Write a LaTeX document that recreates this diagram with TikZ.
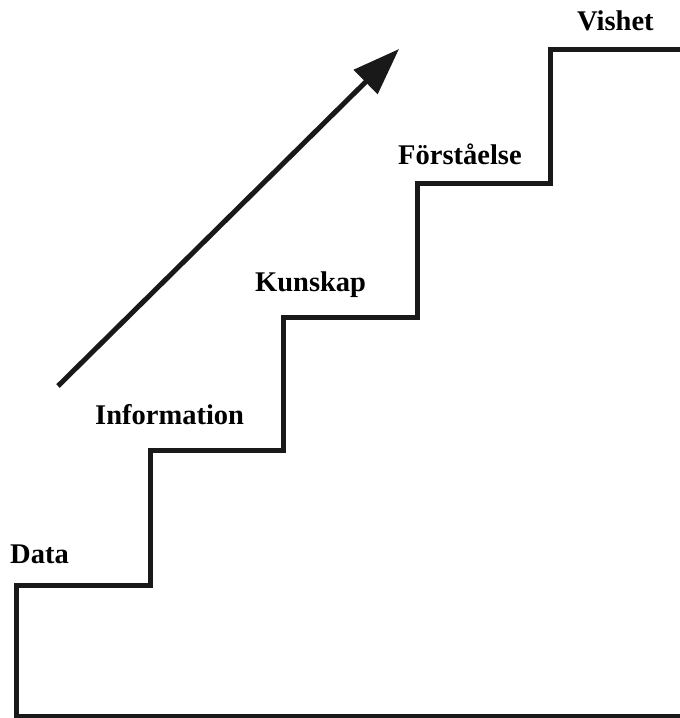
\documentclass[tikz,border=0pt]{standalone}
\usepackage{fontspec}
\setmainfont{Liberation Serif}
\usetikzlibrary{arrows.meta}
\begin{document}
\begin{tikzpicture}[x=1pt,y=-1pt,
  stair/.style={line width=5pt, line join=miter, color=black!90},
  steplabel/.style={anchor=base west, inner sep=0pt, font=\fontsize{28.5}{33}\selectfont\bfseries},
  trend/.style={line width=5pt, color=black!90, -{Triangle[length=47pt,width=33pt]}}]
  \useasboundingbox (0,0) rectangle (680,718);
  % staircase
  \coordinate (b0) at (16,716);
  \coordinate (s1) at (16,585);
  \coordinate (s2) at (150,585);
  \coordinate (s3) at (150,450);
  \coordinate (s4) at (283,450);
  \coordinate (s5) at (283,317);
  \coordinate (s6) at (417,317);
  \coordinate (s7) at (417,183);
  \coordinate (s8) at (550,183);
  \coordinate (s9) at (550,49);
  \coordinate (s10) at (682,49);
  \coordinate (b1) at (682,716);
  \draw[stair] (s10) -- (s9) -- (s8) -- (s7) -- (s6) -- (s5) -- (s4) -- (s3) -- (s2) -- (s1) -- (b0) -- (b1);
  % step labels
  \node[steplabel] (data) at (10,563) {Data};
  \node[steplabel] (info) at (95,424) {Information};
  \node[steplabel] (kunskap) at (255,291) {Kunskap};
  \node[steplabel] (forst) at (398,164) {Förståelse};
  \node[steplabel] (vishet) at (577,30) {Vishet};
  % rising arrow
  \coordinate (atail) at (58,386);
  \coordinate (ahead) at (399,49);
  \draw[trend] (atail) -- (ahead);
\end{tikzpicture}
\end{document}
